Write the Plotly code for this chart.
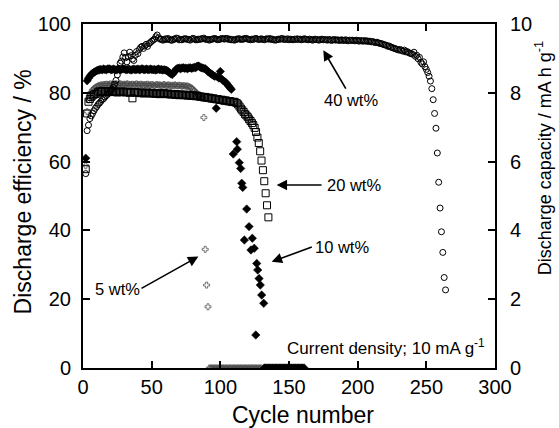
import plotly.graph_objects as go

# ---------------- data ----------------
# 40 wt% (open circles)
cyc_40 = list(range(2, 265))
eff_40 = [
    56.5, 69.0, 70.6, 72.5, 73.3, 74.0, 74.8, 75.5, 76.0, 76.6,
    77.0, 77.5, 78.0, 78.3, 78.8, 79.2, 79.6, 80.0, 80.5, 81.0,
    81.6, 82.5, 83.6, 85.2, 87.0, 88.6, 89.2, 90.4, 91.6, 90.2,
    89.0, 90.5, 91.8, 90.8, 89.8, 89.4, 90.9, 92.0, 91.4, 92.6,
    93.2, 93.5, 92.9, 93.6, 94.1, 93.5, 94.3, 94.6, 95.0, 95.3,
    95.6, 96.3, 96.8, 96.0, 95.6,
    # plateau 57..205
    95.6, 95.3, 95.4, 95.7, 95.5, 95.8, 95.5, 95.3, 95.3, 95.6,
    95.6, 95.9, 95.8, 95.4, 95.5, 95.4, 95.6, 95.7, 95.7, 95.5,
    95.5, 95.3, 95.6, 95.8, 95.7, 95.4, 95.4, 95.6, 95.5, 95.7,
    95.7, 95.9, 95.6, 95.5, 95.5, 95.3, 95.5, 95.6, 95.7, 95.8,
    95.6, 95.4, 95.5, 95.6, 95.8, 95.7, 95.6, 95.8, 95.8, 95.5,
    95.6, 95.4, 95.5, 95.3, 95.4, 95.6, 95.7, 95.7, 95.5, 95.6,
    95.6, 95.8, 95.8, 95.6, 95.5, 95.4, 95.6, 95.5, 95.7, 95.8,
    95.6, 95.5, 95.6, 95.7, 95.5, 95.4, 95.6, 95.7, 95.6, 95.8,
    95.5, 95.6, 95.4, 95.3, 95.4, 95.6, 95.5, 95.7, 95.8, 95.5,
    95.6, 95.5, 95.7, 95.4, 95.6, 95.5, 95.4, 95.6, 95.5, 95.7,
    95.5, 95.6, 95.4, 95.5, 95.7, 95.6, 95.5, 95.4, 95.6, 95.5,
    95.3, 95.4, 95.6, 95.5, 95.4, 95.3, 95.5, 95.6, 95.4, 95.5,
    95.4, 95.3, 95.5, 95.4, 95.2, 95.4, 95.5, 95.3, 95.4, 95.3,
    95.2, 95.4, 95.3, 95.2, 95.4, 95.3, 95.1, 95.3, 95.2, 95.3,
    95.2, 95.1, 95.3, 95.2, 95.0, 95.2, 95.1, 95.0, 95.2,
    # 206..239
    95.0, 95.1, 94.9, 95.0, 94.8, 94.9, 94.7, 94.6, 94.7, 94.5,
    94.4, 94.3, 94.2, 94.0, 93.9, 93.8, 93.5, 93.6, 93.3, 93.2,
    93.0, 92.9, 92.7, 92.6, 92.4, 92.6, 92.3, 92.1, 92.4, 91.9,
    92.0, 91.7, 91.5, 91.4,
    # 240..264
    91.2, 91.8, 90.6, 90.9, 89.9, 90.3, 88.9, 88.4, 89.0, 87.6,
    86.8, 85.9, 84.8, 83.4, 81.2, 78.0, 74.0, 69.7, 62.5, 54.0,
    46.5, 39.6, 33.6, 26.3, 22.7,
]

# 20 wt% (open squares)
cyc_20 = list(range(2, 136))
eff_20 = [
    57.8, 74.0, 77.4, 78.2, 78.8, 79.2, 79.5, 79.7, 79.8,
    80.3, 80.4, 80.2, 80.5, 80.3, 80.4, 80.2, 80.4, 80.3, 80.5,
    80.3, 80.2, 80.4, 80.3, 80.1, 80.3, 80.2, 80.4, 80.2, 80.3,
    80.1, 80.3, 80.2, 80.0, 80.2, 78.4, 80.1, 80.2, 80.0, 80.1,
    79.9, 80.1, 80.0, 79.8, 80.0, 79.9, 80.1, 79.9, 79.8, 80.0,
    79.8, 79.9, 79.7, 79.9, 79.8, 79.6, 79.8, 79.7, 79.9, 79.7,
    79.6, 79.8, 79.6, 79.5, 79.7, 79.6, 79.4, 79.6, 79.5, 79.3,
    79.5, 79.4, 79.3, 79.5, 79.3, 79.2, 79.4, 79.2, 79.1, 79.3,
    79.1, 79.0, 79.2, 79.0, 78.9,
    78.9, 78.8, 78.7, 78.8, 78.6, 78.5, 78.6, 78.4, 78.3, 78.4,
    78.2, 78.1, 78.2, 78.0, 77.9, 78.0, 77.8, 77.7, 77.8, 77.6,
    77.5, 77.6, 77.4, 77.3, 77.4, 77.2, 77.0,
    76.6, 76.0, 75.4, 74.9, 74.4, 73.8, 73.4, 72.9, 72.3, 71.8,
    71.2, 70.6, 69.8, 68.6, 67.0, 65.4, 63.0, 60.3, 57.5, 54.3,
    50.8, 47.3, 43.8,
]

# 10 wt% (filled diamonds)
cyc_10 = list(range(2, 109)) + [
    109.4, 111.9, 112.4, 113.8, 114.8, 115.6, 116.3, 119.2, 120.9, 117.5,
    123.3, 122.3, 124.7, 126.5, 127.2, 128.2, 129.1, 130.1, 131.6, 125.8,
] + list(range(132, 162))
eff_10 = [
    61.0, 83.5, 84.2, 84.8, 85.3, 85.7, 86.0, 86.2, 86.4,
    86.6, 86.7, 86.8, 86.7, 86.9, 86.8, 86.7, 86.9, 87.0, 86.8,
    86.7, 86.9, 86.8, 86.6, 86.8, 86.9, 86.7, 86.8, 87.0, 86.9,
    86.8, 86.7, 86.9, 86.8, 86.6, 86.8, 86.9, 86.7, 86.8, 86.9,
    86.7, 86.8, 87.0, 86.8, 86.7, 86.9, 86.8, 86.7, 86.9, 86.8,
    86.7, 86.8, 86.6, 86.8, 86.9, 86.7, 86.8, 86.6, 86.7, 86.6,
    86.5, 86.2, 85.8, 85.5, 85.3, 85.8, 86.4, 86.9,
    87.1, 87.2, 87.0, 87.2, 87.3, 87.1, 87.2, 87.0, 87.2, 87.3,
    87.1, 87.2, 87.4, 87.3, 87.7, 87.8, 87.6, 87.3, 87.2, 87.1,
    87.0, 86.6, 86.2, 85.9, 85.6, 85.3, 85.0, 84.8,
    75.5, 84.6, 84.3, 86.2, 84.0, 83.6, 83.3, 83.0, 82.5, 82.0,
    81.5, 81.0,
    62.2, 65.8, 63.6, 59.7, 58.0, 53.7, 52.5, 46.2, 41.1, 37.2,
    37.7, 34.3, 34.8, 30.4, 28.5, 26.0, 24.1, 21.2, 18.8, 9.6,
    0, 0, 0, 0, 0, 0, 0, 0, 0, 0,
    0, 0, 0, 0, 0, 0, 0, 0, 0, 0,
    0, 0, 0, 0, 0, 0, 0, 0, 0, 0,
]

# 5 wt% (open crosses)
cyc_5 = list(range(2, 131))
eff_5 = [
    58.8, 74.5, 77.9, 79.5, 80.2, 80.8, 81.2, 81.5, 81.8,
    82.0, 82.1, 82.3, 82.2, 82.4, 82.3, 82.5, 82.4, 82.3, 82.6,
    82.4, 82.5, 82.3, 82.6, 82.5, 82.4, 82.6, 82.5, 82.3, 82.5,
    82.4, 82.6, 82.5, 82.3, 82.4, 82.5, 82.3, 82.4, 82.6, 82.4,
    82.3, 82.5, 82.4, 82.2, 82.4, 82.3, 82.5, 82.3, 82.2, 82.4,
    82.3, 82.1, 82.3, 82.4, 82.2, 82.3, 82.1, 82.2, 82.4, 82.2,
    82.1, 82.3, 82.2, 82.0, 82.2, 82.1, 82.3, 82.1, 82.0, 82.2,
    82.1, 81.9, 82.1, 82.0, 81.9,
    82.0, 81.8, 81.6, 81.4, 81.0, 80.6, 80.2, 79.8, 79.4, 79.0,
    78.6, 78.4, 72.8, 34.5, 24.1, 17.8,
    0, 0, 0, 0, 0, 0, 0, 0, 0, 0,
    0, 0, 0, 0, 0, 0, 0, 0, 0, 0,
    0, 0, 0, 0, 0, 0, 0, 0, 0, 0,
    0, 0, 0, 0, 0, 0, 0, 0, 0, 0,
]

x_ticks = [0, 50, 100, 150, 200, 250, 300]
y_ticks = [0, 20, 40, 60, 80, 100]
y2_ticks = [0, 2, 4, 6, 8, 10]

# ---------------- figure ----------------
FONT = "Liberation Sans, Arial, sans-serif"
fig = go.Figure()

fig.add_trace(go.Scatter(
    x=cyc_5, y=eff_5, mode="markers", name="5 wt%",
    marker=dict(symbol="cross-open", size=5, color="#444444",
                line=dict(color="#444444", width=0.7))))
fig.add_trace(go.Scatter(
    x=cyc_20, y=eff_20, mode="markers", name="20 wt%",
    marker=dict(symbol="square-open", size=7, color="black",
                line=dict(color="black", width=1))))
fig.add_trace(go.Scatter(
    x=cyc_10, y=eff_10, mode="markers", name="10 wt%",
    marker=dict(symbol="diamond", size=6.5, color="black",
                line=dict(color="black", width=0.5))))
fig.add_trace(go.Scatter(
    x=cyc_40, y=eff_40, mode="markers", name="40 wt%",
    marker=dict(symbol="circle-open", size=6, color="black",
                line=dict(color="black", width=1))))
# secondary axis carrier (no visible marks)
fig.add_trace(go.Scatter(x=[None], y=[None], yaxis="y2", showlegend=False,
                         hoverinfo="skip"))

axis_common = dict(
    showline=True, linecolor="black", linewidth=2,
    ticks="inside", ticklen=7, tickwidth=2, tickcolor="black",
    showgrid=False, zeroline=False, automargin=False,
    tickfont=dict(family=FONT, size=20, color="black"),
)

fig.update_layout(
    template="none",
    width=559, height=428,
    margin=dict(l=83, r=64, t=24, b=60, pad=0),
    paper_bgcolor="white", plot_bgcolor="white",
    showlegend=False,
    font=dict(family=FONT, color="black"),
    xaxis=dict(range=[0, 300], tickvals=x_ticks, mirror="ticks",
               **axis_common),
    yaxis=dict(range=[0, 100], tickvals=y_ticks, ticklabelstandoff=6,
               **axis_common),
    yaxis2=dict(range=[0, 10], tickvals=y2_ticks, overlaying="y",
                side="right", ticklabelstandoff=9, **axis_common),
)

annotations = [
    # axis titles
    dict(text="Cycle number", xref="paper", yref="paper", x=0.533, y=-0.137,
         xanchor="center", yanchor="middle", showarrow=False,
         font=dict(size=23)),
    dict(text="Discharge efficiency / %", xref="paper", yref="paper",
         x=-0.146, y=0.513, xanchor="center", yanchor="middle",
         textangle=-90, showarrow=False, font=dict(size=23)),
    dict(text="Discharge capacity / mA h g<sup>-1</sup>", xref="paper",
         yref="paper", x=1.117, y=0.61, xanchor="center", yanchor="middle",
         textangle=-90, showarrow=False, font=dict(size=18)),
    # labels
    dict(text="40 wt%", x=194.8, y=77.9, showarrow=False,
         xanchor="center", yanchor="middle", font=dict(size=16.5)),
    dict(text="20 wt%", x=176.2, y=53.2, showarrow=False,
         xanchor="left", yanchor="middle", font=dict(size=16.5)),
    dict(text="10 wt%", x=167.5, y=35.3, showarrow=False,
         xanchor="left", yanchor="middle", font=dict(size=16.5)),
    dict(text="5 wt%", x=25.1, y=23.0, showarrow=False,
         xanchor="center", yanchor="middle", font=dict(size=16.5)),
    dict(text="Current density; 10 mA g<sup>-1</sup>", x=294.2, y=6.0,
         showarrow=False, xanchor="right", yanchor="middle",
         font=dict(size=17)),
]

arrows = [
    ((175.0, 92.4), (192.0, 80.8)),
    ((141.0, 53.2), (174.8, 53.2)),
    ((137.4, 30.9), (167.7, 35.3)),
    ((84.0, 32.4), (41.5, 22.9)),
]
for (hx, hy), (tx, ty) in arrows:
    annotations.append(dict(
        x=hx, y=hy, ax=tx, ay=ty, xref="x", yref="y", axref="x", ayref="y",
        text="", showarrow=True, arrowhead=2, arrowsize=1.3, arrowwidth=1.6,
        arrowcolor="black", standoff=0, startstandoff=0))

fig.update_layout(annotations=annotations)

fig.write_html("out.html",
               config={"displayModeBar": False},
               post_script="document.body.style.margin='0px';"
                           "document.body.style.padding='0px';")
